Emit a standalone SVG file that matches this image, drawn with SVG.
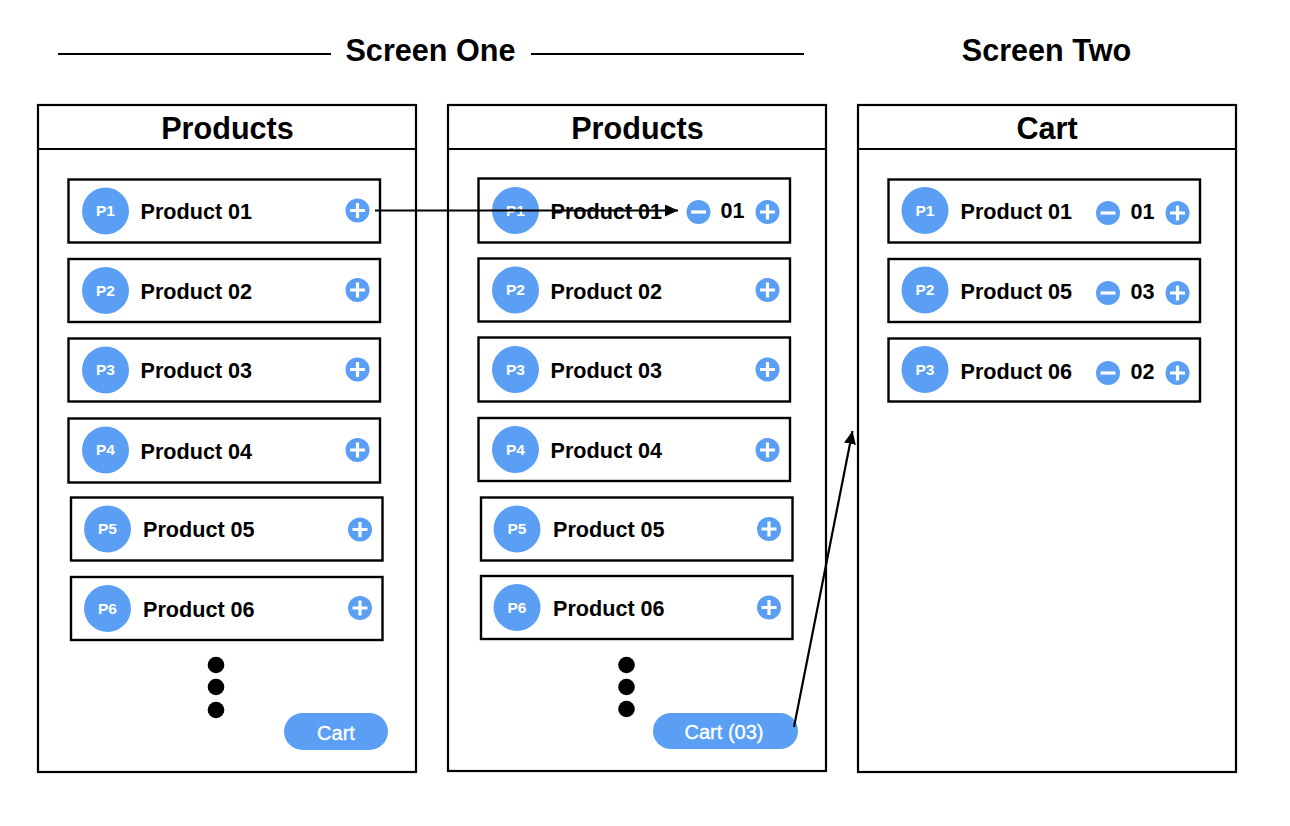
<svg xmlns="http://www.w3.org/2000/svg" width="1290" height="826" viewBox="0 0 1290 826">
<style>
text{font-family:"Liberation Sans",Arial,sans-serif;font-weight:700;fill:#000}
.box{fill:#fff;stroke:#000;stroke-width:2.2}
.row{fill:#fff;stroke:#000;stroke-width:2.4}
.head{font-size:30.6px;text-anchor:middle}
.name{font-size:21.6px}
.qty{font-size:21.6px}
.pid{font-size:15.5px;fill:#fff;text-anchor:middle;font-weight:700}
.av{fill:#5b9ff5}
.cart{font-size:20px;font-weight:400;fill:#fff;stroke:#fff;stroke-width:.35;text-anchor:middle}
.sym{stroke:#fff;stroke-width:3.2;fill:none}
.ln{stroke:#000;stroke-width:2.2;fill:none}
</style>
<defs>
<g id="plus"><circle r="12" class="av"/><path class="sym" d="M-7.5 0H7.5M0-7.5V7.5"/></g>
<g id="minus"><circle r="12" class="av"/><path class="sym" d="M-7.5 0H7.5"/></g>
<marker id="arr" markerUnits="userSpaceOnUse" markerWidth="14" markerHeight="12" refX="13" refY="6" orient="auto"><path d="M0 0L13 6L0 12Z" fill="#000"/></marker>
</defs>

<g id="titles">
<text class="head" x="430.500" y="61">Screen One</text>
<text class="head" x="1046.500" y="61">Screen Two</text>
<path class="ln" d="M58 54H331M531 54H804"/>
</g>

<g id="screen-1">
<rect class="box" x="38" y="105" width="378" height="667"/>
<path class="ln" d="M38 149H416"/>
<text class="head" x="227.500" y="138.500">Products</text>
<circle cx="216" cy="665" r="8.300"/><circle cx="216" cy="687" r="8.300"/><circle cx="216" cy="710" r="8.300"/>
</g>
<g id="s1-p1"><rect class="row" x="68.500" y="179.500" width="311.500" height="63"/><circle class="av" cx="105.500" cy="211" r="23.500"/><text class="pid" x="105.500" y="216">P1</text><text class="name" x="140.500" y="219">Product 01</text><use href="#plus" x="357.500" y="210.500"/></g>
<g id="s1-p2"><rect class="row" x="68.500" y="259" width="311.500" height="63"/><circle class="av" cx="105.500" cy="290.500" r="23.500"/><text class="pid" x="105.500" y="295.500">P2</text><text class="name" x="140.500" y="298.500">Product 02</text><use href="#plus" x="357.500" y="290"/></g>
<g id="s1-p3"><rect class="row" x="68.500" y="338.500" width="311.500" height="63"/><circle class="av" cx="105.500" cy="370" r="23.500"/><text class="pid" x="105.500" y="375">P3</text><text class="name" x="140.500" y="378">Product 03</text><use href="#plus" x="357.500" y="369.500"/></g>
<g id="s1-p4"><rect class="row" x="68.500" y="418.500" width="311.500" height="64"/><circle class="av" cx="105.500" cy="450" r="23.500"/><text class="pid" x="105.500" y="455">P4</text><text class="name" x="140.500" y="459">Product 04</text><use href="#plus" x="357.500" y="450"/></g>
<g id="s1-p5"><rect class="row" x="71" y="497.500" width="311.500" height="63"/><circle class="av" cx="107.500" cy="529" r="23.500"/><text class="pid" x="107.500" y="534">P5</text><text class="name" x="143" y="537">Product 05</text><use href="#plus" x="360" y="529.500"/></g>
<g id="s1-p6"><rect class="row" x="71" y="577" width="311.500" height="63"/><circle class="av" cx="107.500" cy="608.500" r="23.500"/><text class="pid" x="107.500" y="613.500">P6</text><text class="name" x="143" y="617">Product 06</text><use href="#plus" x="360" y="608"/></g>
<g id="s1-cart"><rect class="av" x="284" y="713" width="104" height="37" rx="18.500"/><text class="cart" x="336" y="739.500">Cart</text></g>

<g id="screen-2">
<rect class="box" x="448" y="105" width="378" height="666"/>
<path class="ln" d="M448 149H826"/>
<text class="head" x="637.500" y="138.500">Products</text>
<circle cx="626.500" cy="665" r="8.300"/><circle cx="626.500" cy="687" r="8.300"/><circle cx="626.500" cy="709" r="8.300"/>
</g>
<g id="s2-p1"><rect class="row" x="478.500" y="178.500" width="311.500" height="64"/><circle class="av" cx="515.500" cy="210.500" r="23.500"/><text class="pid" x="515.500" y="215.500">P1</text><text class="name" x="550.500" y="219">Product 01</text><use href="#minus" x="698.500" y="212"/><text class="qty" x="720.500" y="218">01</text><use href="#plus" x="767.500" y="212"/></g>
<g id="s2-p2"><rect class="row" x="478.500" y="258.500" width="311.500" height="63"/><circle class="av" cx="515.500" cy="290" r="23.500"/><text class="pid" x="515.500" y="295">P2</text><text class="name" x="550.500" y="298.500">Product 02</text><use href="#plus" x="767.500" y="290"/></g>
<g id="s2-p3"><rect class="row" x="478.500" y="337.500" width="311.500" height="64"/><circle class="av" cx="515.500" cy="369.500" r="23.500"/><text class="pid" x="515.500" y="374.500">P3</text><text class="name" x="550.500" y="378">Product 03</text><use href="#plus" x="767.500" y="369.500"/></g>
<g id="s2-p4"><rect class="row" x="478.500" y="418" width="311.500" height="63"/><circle class="av" cx="515.500" cy="449.500" r="23.500"/><text class="pid" x="515.500" y="454.500">P4</text><text class="name" x="550.500" y="458">Product 04</text><use href="#plus" x="767.500" y="450"/></g>
<g id="s2-p5"><rect class="row" x="481" y="497.500" width="311.500" height="63"/><circle class="av" cx="517" cy="529" r="23.500"/><text class="pid" x="517" y="534">P5</text><text class="name" x="553" y="537">Product 05</text><use href="#plus" x="769" y="529"/></g>
<g id="s2-p6"><rect class="row" x="481" y="576" width="311.500" height="63"/><circle class="av" cx="517" cy="607.500" r="23.500"/><text class="pid" x="517" y="612.500">P6</text><text class="name" x="553" y="616">Product 06</text><use href="#plus" x="769" y="607.500"/></g>
<g id="s2-cart"><rect class="av" x="653" y="713" width="145" height="36" rx="18"/><text class="cart" x="724" y="738.500">Cart (03)</text></g>

<g id="screen-3">
<rect class="box" x="858" y="105" width="378" height="667"/>
<path class="ln" d="M858 149H1236"/>
<text class="head" x="1047" y="138.500">Cart</text>
</g>
<g id="s3-p1"><rect class="row" x="888.500" y="179.500" width="311.500" height="63"/><circle class="av" cx="925" cy="210.500" r="23.500"/><text class="pid" x="925" y="215.500">P1</text><text class="name" x="960.500" y="219">Product 01</text><use href="#minus" x="1108" y="213"/><text class="qty" x="1130.500" y="219">01</text><use href="#plus" x="1177.500" y="213"/></g>
<g id="s3-p2"><rect class="row" x="888.500" y="259" width="311.500" height="63"/><circle class="av" cx="925" cy="290" r="23.500"/><text class="pid" x="925" y="295">P2</text><text class="name" x="960.500" y="298.500">Product 05</text><use href="#minus" x="1108" y="293"/><text class="qty" x="1130.500" y="298.500">03</text><use href="#plus" x="1177.500" y="293"/></g>
<g id="s3-p3"><rect class="row" x="888.500" y="338.500" width="311.500" height="63"/><circle class="av" cx="925" cy="369.500" r="23.500"/><text class="pid" x="925" y="374.500">P3</text><text class="name" x="960.500" y="378.500">Product 06</text><use href="#minus" x="1108" y="373"/><text class="qty" x="1130.500" y="378.500">02</text><use href="#plus" x="1177.500" y="373"/></g>

<g id="connectors">
<path class="ln" d="M375 210.500L678 210.500" marker-end="url(#arr)"/>
<path class="ln" d="M794 727L852.500 431" marker-end="url(#arr)"/>
</g>
</svg>
